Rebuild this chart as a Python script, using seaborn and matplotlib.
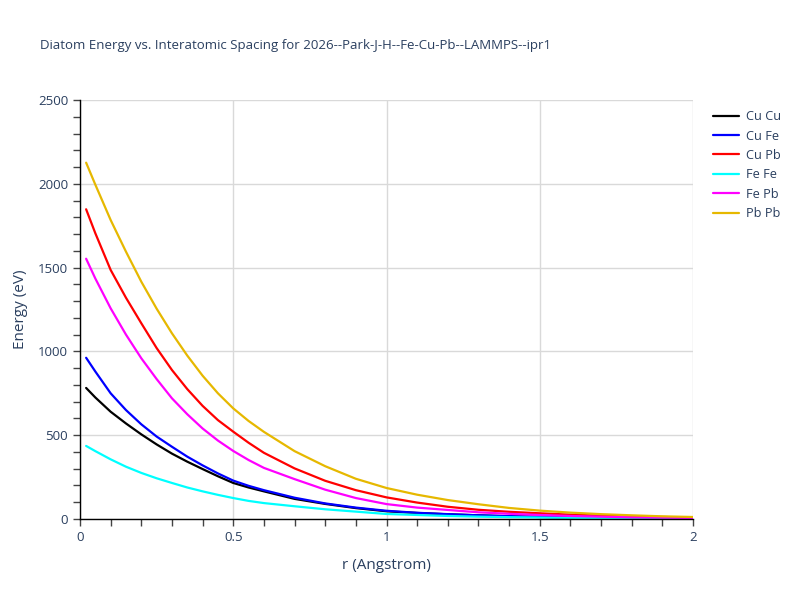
import numpy as np
import pandas as pd
import matplotlib
matplotlib.use("Agg")
import matplotlib.pyplot as plt
from matplotlib.ticker import MultipleLocator
import seaborn as sns

r = [0.02, 0.05, 0.1, 0.15, 0.2, 0.25, 0.3, 0.35, 0.4, 0.45, 0.5, 0.55, 0.6,
     0.7, 0.8, 0.9, 1.0, 1.1, 1.2, 1.3, 1.4, 1.5, 1.6, 1.7, 1.8, 1.9, 2.0]
cu_cu = [782, 725, 640, 570, 505, 445, 390, 342, 298, 255, 215, 188, 165,
         120, 90, 65, 46, 36, 28, 22, 16, 12, 9, 6, 4, 3, 2]
cu_fe = [962, 880, 750, 650, 565, 492, 431, 372, 320, 272, 229, 198, 172,
         127, 93, 68, 49, 37, 29, 22, 17, 13, 10, 7, 5, 3, 2]
cu_pb = [1848, 1705, 1486, 1320, 1168, 1020, 889, 775, 675, 590, 521, 455, 395,
         302, 228, 172, 129, 98, 73, 55, 43, 34, 26, 20, 15, 12, 9]
fe_fe = [436, 405, 356, 312, 275, 243, 215, 188, 165, 144, 125, 108, 95,
         76, 58, 44, 30, 24, 18, 14, 11, 9, 7, 5, 4, 3, 2]
fe_pb = [1553, 1435, 1257, 1100, 959, 835, 720, 625, 540, 468, 406, 352, 305,
         238, 175, 125, 89, 68, 54, 40, 31, 24, 18, 14, 10, 8, 6]
pb_pb = [2126, 1995, 1784, 1595, 1416, 1255, 1108, 975, 855, 750, 660, 585, 520,
         405, 315, 240, 185, 145, 113, 88, 66, 50, 38, 29, 22, 16, 12]

series = {"Cu Cu": cu_cu, "Cu Fe": cu_fe, "Cu Pb": cu_pb,
          "Fe Fe": fe_fe, "Fe Pb": fe_pb, "Pb Pb": pb_pb}
colors = {"Cu Cu": "#000000", "Cu Fe": "#0000ff", "Cu Pb": "#ff0000",
          "Fe Fe": "#00ffff", "Fe Pb": "#ff00ff", "Pb Pb": "#e6b800"}

df = pd.concat([pd.DataFrame({"r": r, "E": v, "pair": k}) for k, v in series.items()],
               ignore_index=True)

sns.set_theme(style="white")
plt.rcParams['font.family'] = ['Open Sans', 'DejaVu Sans']
txt = "#2a3f5f"

fig = plt.figure(figsize=(8, 6), dpi=100)
ax = fig.add_axes([80/800, 1-519/600, (693-80)/800, (519-100)/600])
sns.lineplot(data=df, x="r", y="E", hue="pair", palette=colors, linewidth=1.6, ax=ax,
             sort=False)

ax.set_xlim(0, 2)
ax.set_ylim(0, 2500)
ax.xaxis.set_major_locator(MultipleLocator(0.5))
ax.xaxis.set_minor_locator(MultipleLocator(0.1))
ax.yaxis.set_major_locator(MultipleLocator(500))
ax.yaxis.set_minor_locator(MultipleLocator(100))
ax.set_xticks([0, 0.5, 1, 1.5, 2])
ax.set_xticklabels(["0", "0.5", "1", "1.5", "2"])
ax.grid(True, which="major", color="#d9d9d9", linewidth=1)
ax.set_axisbelow(True)
for s in ["top", "right"]:
    ax.spines[s].set_visible(False)
for s in ["left", "bottom"]:
    ax.spines[s].set_color("black")
    ax.spines[s].set_linewidth(1)
ax.tick_params(axis="both", which="both", direction="out", color="#444444",
               labelcolor=txt, labelsize=9.5, bottom=True, left=True)
ax.tick_params(which="major", length=5, width=1)
ax.tick_params(which="minor", length=5, width=1)
ax.set_xlabel("r (Angstrom)", color=txt, fontsize=11, labelpad=10)
ax.set_ylabel("Energy (eV)", color=txt, fontsize=11, labelpad=7)

leg = ax.legend(loc="upper left", bbox_to_anchor=(708/800, 1-105/600),
                bbox_transform=fig.transFigure, frameon=False, fontsize=9.2,
                handlelength=2.0, handletextpad=0.6, labelspacing=0.5, borderaxespad=0)
for t in leg.get_texts():
    t.set_color(txt)

fig.text(40/800, 1-45/600, "Diatom Energy vs. Interatomic Spacing for 2026--Park-J-H--Fe-Cu-Pb--LAMMPS--ipr1",
         color=txt, fontsize=9.5, va="center", ha="left")

fig.savefig("out.png", dpi=100)
